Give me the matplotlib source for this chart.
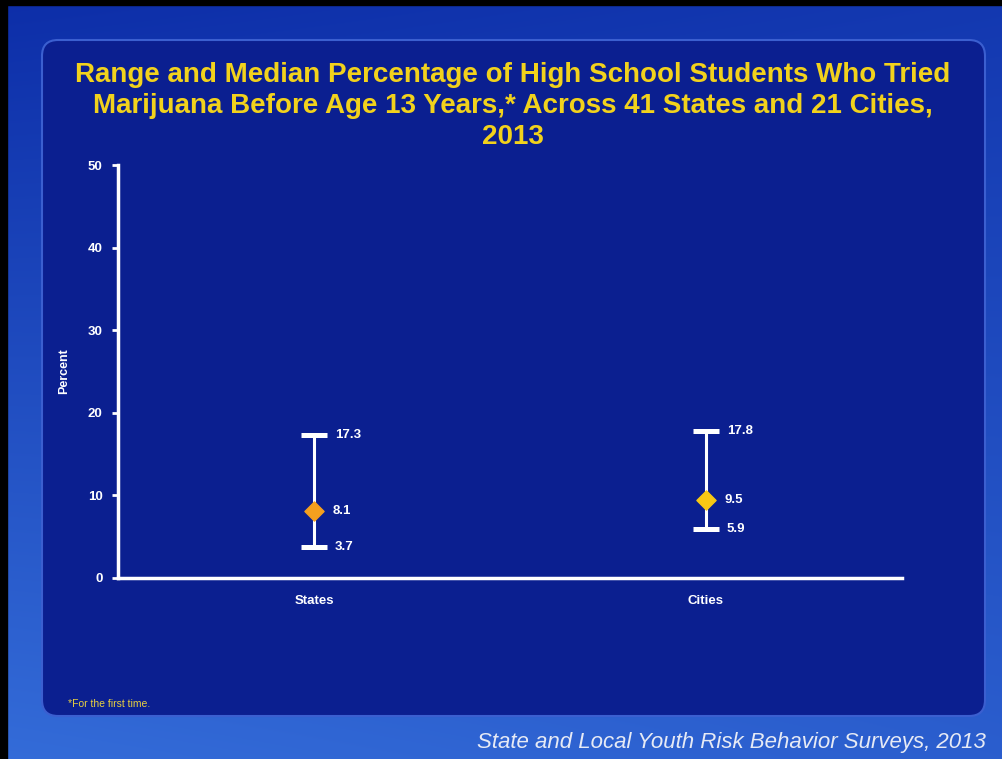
import numpy as np
import matplotlib.pyplot as plt
from matplotlib.patches import FancyBboxPatch, Rectangle

groups = ["States", "Cities"]
low = [3.7, 5.9]
median = [8.1, 9.5]
high = [17.3, 17.8]
median_colors = ["#F5A01E", "#F8C814"]
yticks = [0, 10, 20, 30, 40, 50]

plt.rcParams['font.family'] = ['Liberation Sans', 'DejaVu Sans']

fig = plt.figure(figsize=(10.03, 7.59), dpi=100)

# slide background (blue gradient)
bg = fig.add_axes([0, 0, 1, 1])
bg.set_xlim(0, 1003)
bg.set_ylim(759, 0)
bg.axis('off')
yy, xx = np.mgrid[0:759, 0:1003]
t = np.clip(0.55 * yy / 759 + 0.35 * (1 - xx / 1003) * yy / 759 + 0.15 * xx / 1003, 0, 1)
c0 = np.array([0.05, 0.18, 0.66])
c1 = np.array([0.22, 0.45, 0.87])
img = c0 + (c1 - c0) * t[..., None]
bg.imshow(img, extent=[0, 1003, 759, 0], aspect='auto')
# black frame on left and top
bg.add_patch(Rectangle((0, 0), 7, 759, color='black'))
bg.add_patch(Rectangle((0, 0), 1003, 5, color='black'))
# inner panel
panel = FancyBboxPatch((42, 40), 943, 676, boxstyle="round,pad=0,rounding_size=16",
                       facecolor="#0b1f90", edgecolor="#3b5fd0", linewidth=1.5)
bg.add_patch(panel)

# titles and notes
fig.text(0.511, 0.861, "Range and Median Percentage of High School Students Who Tried\n"
         "Marijuana Before Age 13 Years,* Across 41 States and 21 Cities,\n2013",
         ha='center', va='center', color="#F2D21C", fontsize=20, fontweight='bold',
         linespacing=1.25)
fig.text(0.068, 0.072, "*For the first time.", color="#E8D040", fontsize=7.5, va='center')
fig.text(0.983, 0.022, "State and Local Youth Risk Behavior Surveys, 2013", color="#E6EAF5",
         fontsize=16, style='italic', ha='right', va='center')

# chart
ax = fig.add_axes([118 / 1003, 1 - 578 / 759, (902 - 118) / 1003, (578 - 165) / 759])
ax.patch.set_alpha(0)
x = np.arange(len(groups)) + 0.5
ax.set_xlim(0, 2)
ax.set_ylim(0, 50)
for i in range(len(groups)):
    ax.vlines(x[i], low[i], high[i], color='white', linewidth=2.2, zorder=2)
    ax.hlines([low[i], high[i]], x[i] - 0.034, x[i] + 0.034, color='white', linewidth=3.6, zorder=2)
    ax.scatter(x[i], median[i], marker='D', s=95, color=median_colors[i], zorder=3)
    ax.text(x[i] + 0.053, high[i], f"{high[i]:.1f}", color='white', fontsize=9.5,
            fontweight='bold', va='center')
    ax.text(x[i] + 0.048, median[i], f"{median[i]:.1f}", color='white', fontsize=9.5,
            fontweight='bold', va='center')
    ax.text(x[i] + 0.053, low[i], f"{low[i]:.1f}", color='white', fontsize=9.5,
            fontweight='bold', va='center')

ax.set_xticks(x)
ax.set_xticklabels(groups)
ax.set_yticks(yticks)
ax.tick_params(axis='x', length=0, pad=12, colors='white', labelsize=9.5)
ax.tick_params(axis='y', length=4, width=2, direction='out', colors='white', labelsize=9.5, pad=7)
for lab in ax.get_xticklabels() + ax.get_yticklabels():
    lab.set_fontweight('bold')
for side in ['top', 'right']:
    ax.spines[side].set_visible(False)
for side in ['left', 'bottom']:
    ax.spines[side].set_color('white')
    ax.spines[side].set_linewidth(2.5)
ax.set_ylabel("Percent", color='white', fontsize=9, fontweight='bold', labelpad=13)

plt.savefig("out.png", dpi=100)
